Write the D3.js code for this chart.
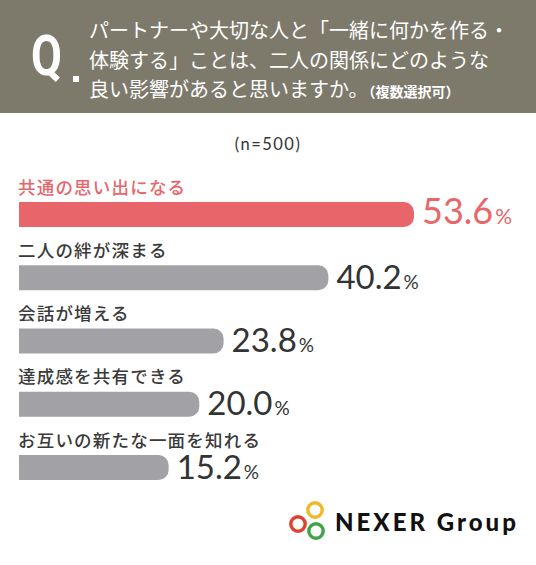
<!DOCTYPE html>
<html lang="ja">
  <head>
    <meta charset="utf-8" />
    <script src="https://d3js.org/d3.v7.min.js"></script>
    <style>
      body { margin: 0; background: #fff; }
      svg { display: block; }
    </style>
  </head>
  <body>
    <script>
      // survey answers, top to bottom
      var categories = [
        "共通の思い出になる",
        "二人の絆が深まる",
        "会話が増える",
        "達成感を共有できる",
        "お互いの新たな一面を知れる"
      ];
      var values = [53.6, 40.2, 23.8, 20.0, 15.2];

      var questionLines = [
        "パートナーや大切な人と「一緒に何かを作る・",
        "体験する」ことは、二人の関係にどのような",
        "良い影響があると思いますか。"
      ];
      var questionNote = "（複数選択可）";
      var sampleNote = "(n=500)";

      var width = 536,
        height = 565;

      var jp = "'Noto Sans CJK JP', sans-serif";
      var num = "Lato, 'Noto Sans', sans-serif";

      var svg = d3
        .select("body")
        .append("svg")
        .attr("width", width)
        .attr("height", height);

      // header band with the question
      svg.append("rect")
        .attr("width", width)
        .attr("height", 113)
        .attr("fill", "#7d7a6c");

      svg.append("text")
        .attr("transform", "translate(31,75) scale(0.8,1)")
        .attr("font-family", "Roboto, sans-serif")
        .attr("font-weight", "bold")
        .attr("font-size", 56)
        .attr("fill", "#fff")
        .text("Q");
      svg.append("rect")
        .attr("x", 73)
        .attr("y", 76)
        .attr("width", 6)
        .attr("height", 6)
        .attr("fill", "#fff");

      var q = svg.append("text")
        .attr("font-family", jp)
        .attr("font-size", 20)
        .attr("fill", "#fff");
      q.selectAll("tspan")
        .data(questionLines)
        .join("tspan")
        .attr("x", 89)
        .attr("y", function (d, i) {
          return 38 + i * 29.5;
        })
        .text(function (d) {
          return d;
        });
      q.append("tspan")
        .attr("font-size", 14)
        .attr("font-weight", "bold")
        .text(questionNote);

      svg.append("text")
        .attr("x", width / 2)
        .attr("y", 150)
        .attr("text-anchor", "middle")
        .attr("font-family", num)
        .attr("font-size", 16.5)
        .attr("letter-spacing", 1.5)
        .attr("fill", "#333")
        .text(sampleNote);

      // scales
      var x = d3.scaleLinear().domain([0, 53.6]).range([71.5, 414]);
      var y = d3.scalePoint().domain(categories).range([202, 455]);
      var barH = 25,
        left = 19,
        r = 10;

      var red = "#e8666a",
        gray = "#a2a2a6";

      function barPath(d) {
        var x1 = x(d.v),
          y0 = y(d.c);
        return (
          "M" + left + "," + y0 +
          "H" + (x1 - r) +
          "A" + r + "," + r + " 0 0 1 " + x1 + "," + (y0 + r) +
          "V" + (y0 + barH - r) +
          "A" + r + "," + r + " 0 0 1 " + (x1 - r) + "," + (y0 + barH) +
          "H" + left + "Z"
        );
      }

      var rows = categories.map(function (c, i) {
        return { c: c, v: values[i], i: i };
      });

      var g = svg.append("g");

      g.selectAll("path.bar")
        .data(rows)
        .join("path")
        .attr("class", "bar")
        .attr("d", barPath)
        .attr("fill", function (d) {
          return d.i === 0 ? red : gray;
        });

      g.selectAll("text.cat")
        .data(rows)
        .join("text")
        .attr("class", "cat")
        .attr("x", left - 1)
        .attr("y", function (d) {
          return y(d.c) - 8.5;
        })
        .attr("font-family", jp)
        .attr("font-size", 17.5)
        .attr("font-weight", 500)
        .attr("letter-spacing", 1.2)
        .attr("fill", function (d) {
          return d.i === 0 ? red : "#3a3a3a";
        })
        .text(function (d) {
          return d.c;
        });

      var vl = g.selectAll("text.val")
        .data(rows)
        .join("text")
        .attr("class", "val")
        .attr("x", function (d) {
          return x(d.v) + 8;
        })
        .attr("y", function (d) {
          return y(d.c) + (d.i === 0 ? 22 : 23.5);
        })
        .attr("font-family", num)
        .attr("fill", function (d) {
          return d.i === 0 ? red : "#333";
        });
      vl.append("tspan")
        .attr("font-size", function (d) {
          return d.i === 0 ? 36 : 33;
        })
        .text(function (d) {
          return d.v.toFixed(1);
        });
      vl.append("tspan")
        .attr("dx", 2)
        .attr("font-size", function (d) {
          return d.i === 0 ? 21 : 19;
        })
        .text("%");

      // logo
      var logo = svg.append("g");
      var rings = [
        { cx: 315, cy: 510, c: "#f0b823" },
        { cx: 298, cy: 524, c: "#e0412f" },
        { cx: 316, cy: 531, c: "#3ea34b" }
      ];
      logo.selectAll("circle")
        .data(rings)
        .join("circle")
        .attr("cx", function (d) { return d.cx; })
        .attr("cy", function (d) { return d.cy; })
        .attr("r", 7.2)
        .attr("fill", "none")
        .attr("stroke", function (d) { return d.c; })
        .attr("stroke-width", 3.4);
      logo.append("text")
        .attr("x", 335)
        .attr("y", 531)
        .attr("font-family", num)
        .attr("font-weight", 900)
        .attr("font-size", 24)
        .attr("letter-spacing", 3)
        .attr("fill", "#111")
        .text("NEXER Group");
    </script>
  </body>
</html>
